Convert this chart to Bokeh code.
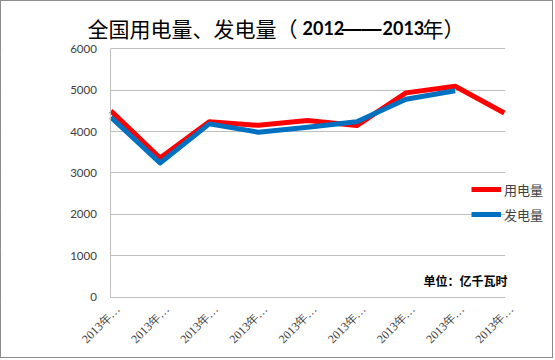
import numpy as np
from bokeh.plotting import figure
from bokeh.models import (Range1d, FixedTicker, Legend, LegendItem, Label, LabelSet,
                          BoxAnnotation, ColumnDataSource)
from bokeh.embed import file_html
from bokeh.resources import INLINE

# ---- data ----
tick_labels = ["2013年…"] * 9
usage = [4500, 3360, 4235, 4150, 4265, 4145, 4935, 5095, 4450]
generation = [4345, 3240, 4185, 3985, 4105, 4235, 4780, 4985]
y_ticks = [0, 1000, 2000, 3000, 4000, 5000, 6000]
title_parts = ["全国用电量、发电量（", "2012", "——", "2013", "年）"]
unit_text = "单位：亿千瓦时"
series_names = ["用电量", "发电量"]

x_usage = list(range(len(usage)))
x_gen = list(range(len(generation)))
x_ticks = list(range(len(tick_labels)))

# ---- layout (pixels) ----
W, H = 553, 358
OFF = 1                      # css border offset
PX_LEFT, PX_RIGHT = 110, 502  # plot area in picture pixels
PY_TOP, PY_BOTTOM = 48, 295
n_last = len(tick_labels) - 1
ppx = (PX_RIGHT - PX_LEFT) / n_last
ppy = (PY_BOTTOM - PY_TOP) / y_ticks[-1]
x0 = -(PX_LEFT - OFF) / ppx
x1 = n_last + (W - 2 + OFF - PX_RIGHT) / ppx
y0 = -(H - 2 + OFF - PY_BOTTOM) / ppy
y1 = y_ticks[-1] + (PY_TOP - OFF) / ppy

def sx(px):
    return px - OFF

def sy(py):
    return (H - 2) - (py - OFF)

p = figure(width=W, height=H, output_backend="svg", toolbar_location=None,
           x_range=Range1d(x0, x1), y_range=Range1d(y0, y1), min_border=0)
p.styles = {"border": "1px solid #8c8c8c"}
p.outline_line_color = None
p.background_fill_color = "white"
p.border_fill_color = "white"

# grid
p.xgrid.grid_line_color = None
p.ygrid.grid_line_color = "#bfbfbf"
p.ygrid.ticker = FixedTicker(ticks=y_ticks)
p.add_layout(BoxAnnotation(right=0, fill_color="white", fill_alpha=1, line_color=None, level="underlay"))
p.add_layout(BoxAnnotation(left=n_last + 0.02, fill_color="white", fill_alpha=1, line_color=None, level="underlay"))

r1 = p.line(x_usage, usage, line_color="#ff0000", line_width=5, line_join="round")
r2 = p.line(x_gen, generation, line_color="#0070c0", line_width=5, line_join="round")

# axes
p.xaxis.visible = False
ya = p.yaxis[0]
ya.fixed_location = 0
ya.bounds = (y_ticks[0], y_ticks[-1])
ya.ticker = FixedTicker(ticks=y_ticks)
ya.major_tick_in = 0
ya.major_tick_out = 0
ya.minor_tick_in = 0
ya.minor_tick_out = 0
ya.axis_line_color = "#bfbfbf"
ya.major_label_text_font = "Lato"
ya.major_label_text_font_size = "11.5px"
ya.major_label_text_color = "#404040"
ya.major_label_standoff = 14

# x tick labels
src = ColumnDataSource(dict(x=x_ticks, y=[0] * len(x_ticks), t=tick_labels))
p.add_layout(LabelSet(x="x", y="y", text="t", source=src, angle=np.pi / 4,
                      x_offset=7, y_offset=-10, text_align="right", text_baseline="middle",
                      text_font="Noto Sans CJK SC", text_font_size="12px",
                      text_color="#404040"))

# legend
legend = Legend(items=[LegendItem(label=series_names[0], renderers=[r1]),
                       LegendItem(label=series_names[1], renderers=[r2])],
                location=(sx(471), sy(222)), padding=0, margin=0, spacing=5,
                glyph_width=30, glyph_height=20, label_standoff=3,
                label_text_font="Noto Sans CJK SC", label_text_font_size="13px",
                label_text_color="#404040", background_fill_alpha=0,
                border_line_color=None)
p.add_layout(legend)

# title (mixed weights)
def title_label(px, text, font, size, bold):
    p.add_layout(Label(x=sx(px), y=sy(25), x_units="screen", y_units="screen", text=text,
                       text_font=font, text_font_size=size,
                       text_font_style="bold" if bold else "normal",
                       text_baseline="middle", text_align="left", text_color="#000000"))

title_label(87, title_parts[0], "Noto Sans CJK SC", "21px", False)
title_label(302, title_parts[1], "Lato", "18px", True)
title_label(341, title_parts[2], "Liberation Sans", "20px", True)
title_label(382, title_parts[3], "Lato", "18px", True)
title_label(422, title_parts[4], "Noto Sans CJK SC", "21px", False)

# unit label
p.add_layout(Label(x=sx(423), y=sy(278), x_units="screen", y_units="screen", text=unit_text,
                   text_font="Noto Sans CJK SC", text_font_size="12px", text_font_style="bold",
                   text_baseline="middle", text_align="left", text_color="#000000"))

open("out.html", "w").write(file_html(p, INLINE))
